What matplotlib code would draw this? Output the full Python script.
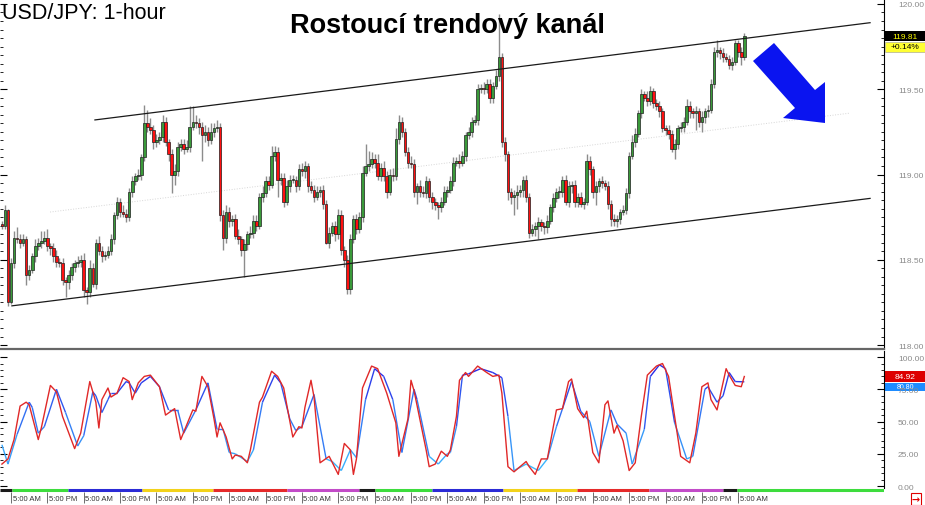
import numpy as np
import matplotlib
matplotlib.use("Agg")
import matplotlib.pyplot as plt
import matplotlib.transforms as mtrans
from matplotlib.collections import LineCollection
from matplotlib.colors import LinearSegmentedColormap
from matplotlib.patches import Polygon, Rectangle
from matplotlib.ticker import FormatStrFormatter, MultipleLocator

plt.rcParams['font.family'] = ['Liberation Sans', 'DejaVu Sans']

# hourly candles, hour 0 = first "5:00 AM" label
first_hour = -3
first_open = 118.71
closes = [
    118.70, 118.79, 118.25, 118.48, 118.63, 118.62, 118.60, 118.62, 118.41, 118.44, 118.52, 118.58,
    118.60, 118.61, 118.63, 118.58, 118.57, 118.52, 118.49, 118.48, 118.38, 118.37, 118.41, 118.46,
    118.48, 118.49, 118.50, 118.32, 118.31, 118.45, 118.36, 118.60, 118.55, 118.52, 118.53, 118.55,
    118.62, 118.76, 118.84, 118.78, 118.77, 118.75, 118.90, 118.96, 118.99, 119.00, 119.10, 119.30,
    119.28, 119.26, 119.19, 119.20, 119.22, 119.31, 119.19, 119.12, 119.00, 119.02, 119.16, 119.18,
    119.15, 119.16, 119.28, 119.31, 119.30, 119.28, 119.23, 119.25, 119.20, 119.25, 119.27, 119.28,
    118.76, 118.63, 118.78, 118.73, 118.74, 118.64, 118.62, 118.56, 118.59, 118.65, 118.66, 118.73,
    118.70, 118.87, 118.89, 118.96, 118.94, 119.11, 119.13, 118.97, 118.98, 118.84, 118.93, 118.97,
    118.97, 118.93, 119.03, 119.02, 119.05, 118.93, 118.91, 118.87, 118.90, 118.91, 118.83, 118.60,
    118.66, 118.70, 118.65, 118.76, 118.56, 118.50, 118.33, 118.62, 118.74, 118.68, 118.75, 119.01,
    119.05, 119.06, 119.09, 119.07, 118.99, 119.04, 118.99, 118.90, 119.00, 118.99, 119.21, 119.31,
    119.25, 119.13, 119.07, 119.06, 118.90, 118.93, 118.90, 118.89, 118.96, 118.87, 118.84, 118.82,
    118.81, 118.84, 118.90, 118.91, 118.96, 119.07, 119.08, 119.07, 119.11, 119.23, 119.25, 119.31,
    119.32, 119.50, 119.51, 119.50, 119.53, 119.45, 119.52, 119.58, 119.69, 119.19, 119.12, 118.90,
    118.87, 118.88, 118.90, 118.91, 118.97, 118.87, 118.66, 118.68, 118.70, 118.72, 118.70, 118.69,
    118.73, 118.81, 118.86, 118.90, 118.90, 118.97, 118.84, 118.93, 118.94, 118.84, 118.87, 118.83,
    118.84, 119.08, 119.03, 118.90, 118.93, 118.96, 118.95, 118.93, 118.83, 118.74, 118.73, 118.74,
    118.78, 118.79, 118.89, 119.11, 119.19, 119.24, 119.36, 119.47, 119.45, 119.43, 119.49, 119.42,
    119.40, 119.37, 119.27, 119.26, 119.24, 119.15, 119.18, 119.27, 119.28, 119.31, 119.40, 119.37,
    119.36, 119.37, 119.31, 119.34, 119.37, 119.38, 119.53, 119.72, 119.73, 119.71, 119.69, 119.68,
    119.64, 119.66, 119.77, 119.72, 119.69, 119.81,
]
# wick lengths in pips above / below the body
up_wick = [
    2, 3, 1, 3, 4, 6, 3, 3, 2, 3, 2, 4,
    3, 6, 4, 5, 2, 3, 4, 2, 3, 2, 3, 2,
    2, 3, 3, 4, 2, 5, 3, 2, 4, 3, 2, 3,
    3, 2, 3, 2, 4, 3, 2, 3, 2, 3, 2, 11,
    8, 5, 3, 4, 3, 4, 3, 2, 3, 4, 3, 3,
    3, 4, 12, 9, 4, 3, 3, 4, 3, 5, 3, 4,
    2, 3, 4, 3, 2, 3, 4, 2, 3, 2, 4, 3,
    3, 2, 4, 3, 3, 6, 4, 3, 3, 3, 4, 3,
    3, 2, 3, 4, 3, 2, 3, 3, 3, 2, 3, 2,
    3, 2, 3, 4, 3, 2, 3, 3, 2, 3, 3, 4,
    13, 8, 4, 3, 5, 3, 4, 3, 3, 4, 6, 4,
    3, 2, 3, 4, 3, 2, 4, 3, 3, 2, 3, 2,
    2, 3, 3, 2, 3, 3, 2, 4, 3, 2, 3, 3,
    3, 3, 2, 3, 3, 3, 2, 3, 25, 2, 3, 2,
    2, 3, 4, 3, 2, 3, 2, 3, 2, 3, 2, 2,
    3, 2, 3, 2, 3, 2, 3, 3, 2, 3, 2, 3,
    2, 4, 3, 2, 3, 2, 3, 2, 3, 2, 3, 2,
    2, 3, 3, 2, 4, 3, 2, 3, 2, 4, 3, 2,
    2, 3, 2, 2, 3, 2, 3, 2, 3, 3, 4, 3,
    2, 3, 2, 3, 2, 3, 3, 3, 6, 2, 3, 2,
    2, 3, 2, 2, 3, 2,
]
dn_wick = [
    2, 2, 2, 1, 3, 2, 3, 2, 6, 3, 2, 3,
    2, 3, 2, 3, 4, 3, 3, 2, 3, 9, 4, 3,
    3, 2, 3, 4, 7, 3, 2, 3, 2, 3, 2, 2,
    2, 3, 2, 3, 2, 3, 2, 3, 2, 2, 3, 2,
    3, 2, 4, 3, 2, 3, 2, 4, 11, 6, 3, 2,
    3, 2, 3, 2, 3, 4, 15, 4, 3, 2, 3, 2,
    3, 7, 3, 4, 3, 2, 3, 4, 16, 3, 2, 3,
    3, 2, 3, 2, 3, 2, 3, 10, 3, 3, 2, 3,
    2, 3, 2, 3, 4, 3, 2, 3, 2, 3, 3, 1,
    3, 2, 4, 3, 3, 4, 3, 3, 2, 3, 2, 3,
    2, 3, 2, 3, 2, 3, 3, 4, 2, 3, 2, 3,
    3, 2, 3, 2, 3, 7, 3, 2, 3, 3, 4, 3,
    7, 3, 2, 3, 2, 3, 2, 3, 2, 3, 2, 3,
    2, 3, 2, 3, 2, 3, 3, 2, 3, 3, 4, 5,
    4, 11, 8, 3, 4, 3, 3, 2, 4, 8, 3, 4,
    3, 2, 3, 2, 4, 3, 2, 3, 4, 3, 3, 2,
    3, 2, 3, 4, 8, 3, 3, 2, 3, 4, 3, 4,
    3, 2, 2, 3, 2, 3, 2, 3, 2, 3, 2, 3,
    2, 3, 2, 3, 3, 2, 6, 3, 2, 3, 2, 4,
    3, 10, 3, 6, 4, 3, 2, 2, 3, 3, 3, 2,
    2, 3, 2, 3, 5, 2,
]

# trend channel drawn by hand (hour, price)
upper_t, upper_p = [27.7, 283.5], [119.32, 119.89]
lower_t, lower_p = [0.3, 283.5], [118.23, 118.86]
mid_t, mid_p = [12.9, 276.9], [118.78, 119.36]

# stochastic %K (red) and %D (blue)
k_hours = [-3, -1, 1, 3, 5, 6, 9, 10, 13, 15, 17, 21, 23, 26, 28, 29, 30, 32, 33, 35,
           37, 39, 40, 42, 44, 46, 49, 51, 54, 56, 60, 61, 63, 65, 67, 68, 69, 71, 73, 74,
           76, 78, 79, 82, 83, 86, 88, 90, 91, 93, 95, 96, 97, 99, 100, 102, 105, 108, 110, 112,
           113, 114, 116, 119, 121, 124, 127, 128, 131, 132, 133, 137, 138, 140, 142, 144, 145, 147, 148, 150,
           151, 154, 157, 159, 161, 162, 164, 166, 170, 171, 173, 175, 177, 180, 182, 184, 185, 187, 189, 190,
           192, 194, 196, 197, 199, 200, 202, 204, 206, 208, 210, 213, 215, 217, 219, 221, 224, 226, 228, 230,
           231, 233, 236, 237, 239, 241, 242]
k_vals = [17, 21, 36, 62, 65, 63, 36, 45, 78, 73, 54, 29, 41, 81, 65, 45, 67, 76, 69, 72,
          84, 81, 67, 80, 85, 86, 77, 55, 60, 36, 59, 58, 85, 77, 52, 38, 49, 38, 21, 24,
          23, 18, 28, 65, 69, 89, 85, 76, 63, 38, 46, 45, 61, 82, 69, 18, 23, 9, 33, 28,
          9, 21, 76, 93, 91, 72, 49, 23, 52, 82, 74, 28, 15, 17, 27, 23, 28, 54, 82, 88,
          85, 93, 88, 85, 86, 72, 15, 11, 19, 15, 9, 21, 21, 59, 60, 81, 83, 60, 53, 58,
          26, 18, 63, 66, 41, 47, 35, 12, 18, 54, 86, 93, 95, 85, 54, 23, 18, 41, 77, 80,
          67, 59, 91, 86, 78, 77, 84.92]
d_hours = [-3, -1, 2, 6, 7, 9, 11, 15, 18, 22, 24, 27, 28, 30, 32, 33, 35, 38, 39, 41,
           43, 46, 49, 52, 55, 57, 61, 65, 68, 70, 72, 74, 78, 80, 83, 87, 89, 92, 94, 96,
           100, 104, 106, 109, 112, 114, 117, 120, 123, 126, 129, 133, 134, 138, 141, 144, 145, 147, 149, 151,
           155, 159, 162, 164, 166, 170, 174, 177, 180, 182, 185, 188, 191, 194, 198, 200, 203, 205, 209, 211,
           214, 216, 219, 223, 225, 229, 230, 233, 235, 237, 239, 242]
d_vals = [32, 17, 40, 65, 61, 41, 46, 75, 57, 31, 39, 73, 70, 57, 67, 72, 72, 81, 80, 72,
          80, 85, 77, 59, 59, 41, 59, 80, 44, 44, 26, 25, 19, 28, 65, 86, 80, 52, 43, 46,
          71, 21, 19, 12, 28, 22, 67, 91, 85, 67, 26, 75, 67, 23, 17, 25, 26, 46, 86, 87,
          91, 88, 84, 54, 12, 17, 12, 21, 46, 60, 81, 58, 50, 23, 59, 48, 41, 17, 44, 85,
          94, 91, 49, 21, 23, 75, 77, 65, 70, 88, 81, 80.8]

price_ticks = [118.0, 118.5, 119.0, 119.5, 120.0]
stoch_ticks = [0, 25, 50, 75, 100]
label_hours = list(range(0, 241, 12))
label_text = ['5:00 AM' if h % 24 == 0 else '5:00 PM' for h in label_hours]
day_edges = [-3.63, 0.3, 18.8, 43.2, 66.7, 91.0, 115.0, 120.0, 139.0, 162.4, 186.8, 210.6, 235.0, 239.6, 288.1]
day_colors = ['#1a1a1a', '#3ddc3d', '#2b2bd6', '#f2d21a', '#e52a2a', '#c24bc8', '#1a1a1a',
              '#3ddc3d', '#2b2bd6', '#f2d21a', '#e52a2a', '#c24bc8', '#1a1a1a', '#3ddc3d']

hours = np.arange(first_hour, first_hour + len(closes))
closes = np.array(closes)
opens = np.concatenate([[first_open], closes[:-1]])
highs = np.maximum(opens, closes) + np.array(up_wick) * 0.01
lows = np.minimum(opens, closes) - np.array(dn_wick) * 0.01

W, H = 925, 506
fig = plt.figure(figsize=(W / 100, H / 100), dpi=100)


def px_box(x0, y0, x1, y1):
    return [x0 / W, 1 - y1 / H, (x1 - x0) / W, (y1 - y0) / H]


ax = fig.add_axes(px_box(0, 0, 884, 350))
ax_st = fig.add_axes(px_box(0, 352, 884, 489), sharex=ax)
ax_t = fig.add_axes(px_box(0, 489, 884, 506), sharex=ax)
ax.set_xlim(-3.63, 288.1)

# candles
rising = closes >= opens
ax.vlines(hours, lows, highs, color='#8c8c8c', lw=1.0, zorder=2)
ax.bar(hours, np.maximum(np.abs(closes - opens), 0.004), bottom=np.minimum(opens, closes),
       width=0.86, color=np.where(rising, '#3a9a3a', '#ff1010'), edgecolor='#202020',
       linewidth=0.5, zorder=3)

ax.plot(upper_t, upper_p, color='#1a1a1a', lw=0.9, zorder=4)
ax.plot(lower_t, lower_p, color='#1a1a1a', lw=0.9, zorder=4)
ax.plot(mid_t, mid_p, color='#d6d6d6', lw=0.7, ls=':', zorder=1)

ax.set_ylim(117.977, 120.029)
ax.yaxis.tick_right()
ax.set_yticks(price_ticks)
ax.yaxis.set_major_formatter(FormatStrFormatter('%.2f'))
ax.yaxis.set_minor_locator(MultipleLocator(0.05))
ax.tick_params(axis='y', which='major', direction='in', length=5, width=0.8, pad=10,
               labelsize=6, labelcolor='#8a8a8a', left=True, right=True, labelleft=False)
ax.tick_params(axis='y', which='minor', direction='in', length=2.5, width=0.6, left=True, right=True)
ax.tick_params(axis='x', which='both', bottom=False, labelbottom=False)
for s in ['top', 'left']:
    ax.spines[s].set_visible(False)
ax.spines['right'].set_color('black')
ax.spines['bottom'].set_color('#666666')
ax.spines['bottom'].set_linewidth(1.6)

# last price boxes
trp = mtrans.blended_transform_factory(ax.transAxes, ax.transData)
last = closes[-1]
ax.add_patch(Rectangle((1.0015, last - 0.029), 0.045, 0.058, transform=trp,
                       facecolor='black', clip_on=False, zorder=5))
ax.text(1.0015 + 0.0225, last, f'{last:.2f}', transform=trp, ha='center', va='center',
        fontsize=6, color='#ffff00', clip_on=False, zorder=6)
ax.add_patch(Rectangle((1.0015, last - 0.091), 0.045, 0.060, transform=trp,
                       facecolor='#ffff33', edgecolor='#999999', lw=0.4, clip_on=False, zorder=5))
ax.text(1.0015 + 0.0225, last - 0.061, '+0.14%', transform=trp, ha='center', va='center',
        fontsize=6, color='black', clip_on=False, zorder=6)

# stochastic
ax_st.plot(k_hours, k_vals, color='#e02828', lw=1.0, zorder=3)
pts = np.column_stack([d_hours, d_vals])
segs = np.stack([pts[:-1], pts[1:]], axis=1)
blue_map = LinearSegmentedColormap.from_list('stoch', ['#3cc0ff', '#2a2ae8'])
lc = LineCollection(segs, cmap=blue_map, norm=plt.Normalize(10, 90), lw=1.0, zorder=2)
lc.set_array((pts[:-1, 1] + pts[1:, 1]) / 2)
ax_st.add_collection(lc)

ax_st.set_ylim(-1.55, 104.7)
ax_st.yaxis.tick_right()
ax_st.set_yticks(stoch_ticks)
ax_st.yaxis.set_major_formatter(FormatStrFormatter('%.2f'))
ax_st.yaxis.set_minor_locator(MultipleLocator(5))
ax_st.tick_params(axis='y', which='major', direction='in', length=5, width=0.8, pad=10,
                  labelsize=6, labelcolor='#8a8a8a', left=True, right=True, labelleft=False)
ax_st.tick_params(axis='y', which='minor', direction='in', length=2.5, width=0.6, left=True, right=True)
ax_st.tick_params(axis='x', which='both', bottom=False, labelbottom=False)
for s in ['top', 'left', 'bottom']:
    ax_st.spines[s].set_visible(False)

trs = mtrans.blended_transform_factory(ax_st.transAxes, ax_st.transData)
k_last = k_vals[-1]
d_last = d_vals[-1]
ax_st.add_patch(Rectangle((1.0015, k_last - 4.3), 0.045, 8.6, transform=trs,
                          facecolor='#dd0000', clip_on=False, zorder=1))
ax_st.text(1.0015 + 0.0225, k_last, f'{k_last:.2f}', transform=trs, ha='center', va='center',
           fontsize=6, color='white', clip_on=False, zorder=6)
ax_st.add_patch(Rectangle((1.0015, d_last - 6.8), 0.045, 6.2, transform=trs,
                          facecolor='#1e8cff', clip_on=False, zorder=1))
ax_st.text(1.0015 + 0.0225, d_last - 3.5, f'{d_last:.2f}', transform=trs, ha='center', va='center',
           fontsize=5, color='white', clip_on=False, zorder=1)

# time strip
ax_t.set_ylim(0, 1)
ax_t.axis('off')
ax_t.hlines([0.88] * (len(day_edges) - 1), day_edges[:-1], day_edges[1:], colors=day_colors, lw=2.2)
ax_t.vlines(label_hours, 0.12, 0.76, color='#555555', lw=0.6)
for h, t in zip(label_hours, label_text):
    ax_t.text(h + 0.5, 0.38, t, fontsize=5.5, ha='left', va='center', color='#333333')

fig.text(916 / W, 1 - 500 / H, '\u2192', color='#e00000', fontsize=7, fontweight='bold',
         ha='center', va='center', family='DejaVu Sans',
         bbox=dict(boxstyle='square,pad=0.1', fc='white', ec='#e00000', lw=0.8))

# titles
fig.text(2 / W, 1 - 19 / H, 'USD/JPY: 1-hour', fontsize=15.5, ha='left', va='baseline')
fig.text(447 / W, 1 - 33 / H, 'Rostoucí trendový kanál', fontsize=19.5, fontweight='bold',
         ha='center', va='baseline')

# blue arrow annotation
arrow_px = [(753, 62), (774, 44), (815, 91), (825, 83), (825, 124), (783, 119), (795, 109)]
fig.add_artist(Polygon([(x / W, 1 - y / H) for x, y in arrow_px], closed=True,
                       transform=fig.transFigure, facecolor='#0a14f0', edgecolor='none'))

fig.savefig('out.png', dpi=100, facecolor='white')
